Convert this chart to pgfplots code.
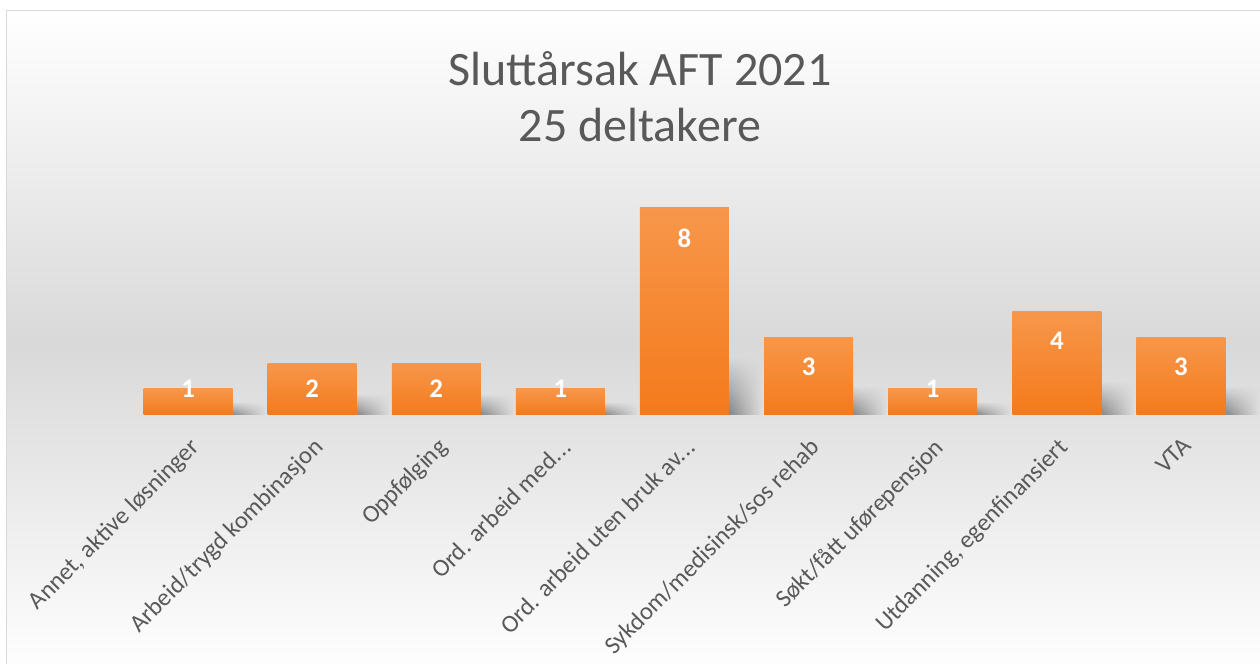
\documentclass[border=0pt]{standalone}
\usepackage{fontspec}
\setmainfont{Carlito}
\usepackage{pgfplots}
\pgfplotsset{compat=1.18}
\usetikzlibrary{fadings}
\definecolor{txt}{HTML}{595959}
\definecolor{bartop}{HTML}{F7974B}
\definecolor{barbot}{HTML}{F47A1B}
\definecolor{framec}{HTML}{D9D9D9}
\definecolor{bgmid}{HTML}{DCDCDC}
\tikzfading[name=fadeR, left color=transparent!0, middle color=transparent!30, right color=transparent!100]
\newcommand{\dd}{.\kern0.02em.\kern0.02em.}
\pgfplotsset{
  barst/.style={ybar, bar width=44.5pt, bar shift=0pt, draw=none, top color=bartop, bottom color=barbot},
  shst/.style={ybar, bar width=17pt, bar shift=30.75pt, draw=none, top color=bgmid, middle color=black!62, bottom color=black!48, path fading=fadeR},
}
\begin{document}
\begin{tikzpicture}
\useasboundingbox (0,0) rectangle (630pt,332pt);
\shade[top color=white, bottom color=white, middle color=black!15] (3pt,-5pt) rectangle (633pt,326.5pt);
\draw[framec, line width=0.7pt] (3.2pt,-2pt) -- (3.2pt,326.6pt) -- (633pt,326.6pt);
\node[txt, font=\fontsize{24}{28}\selectfont, anchor=base, inner sep=0pt] at (320pt,289pt) {Sluttårsak AFT 2021};
\node[txt, font=\fontsize{24}{28}\selectfont, anchor=base, inner sep=0pt] at (320pt,261pt) {25 deltakere};
\begin{axis}[
  at={(63pt,124.5pt)}, anchor=south west,
  scale only axis, width=558.5pt, height=117pt,
  xmin=-0.5, xmax=8.5, ymin=0, ymax=9,
  axis line style={draw=none},
  tick style={draw=none},
  ytick=\empty,
  xtick={0,1,2,3,4,5,6,7,8},
  xticklabels={{Annet, aktive løsninger},{Arbeid/trygd kombinasjon},{Oppfølging},{Ord. arbeid med\dd},{Ord. arbeid uten bruk av\dd},{Sykdom/medisinsk/sos rehab},{Søkt/fått uførepensjon},{Utdanning, egenfinansiert},{VTA}},
  xticklabel style={yshift=-10.5pt, rotate=45, anchor=north east, inner sep=0pt, text=txt, font=\fontsize{12.3}{14}\selectfont},
  clip=false,
]
% shadows
\addplot[shst] coordinates {(0,0.5)};
\addplot[shst] coordinates {(1,0.8)};
\addplot[shst] coordinates {(2,0.8)};
\addplot[shst] coordinates {(3,0.5)};
\addplot[shst] coordinates {(4,2.3)};
\addplot[shst] coordinates {(5,1.1)};
\addplot[shst] coordinates {(6,0.5)};
\addplot[shst] coordinates {(7,1.3)};
\addplot[shst] coordinates {(8,1.1)};
% bars
\addplot[barst] coordinates {(0,1)};
\addplot[barst] coordinates {(1,2)};
\addplot[barst] coordinates {(2,2)};
\addplot[barst] coordinates {(3,1)};
\addplot[barst] coordinates {(4,8)};
\addplot[barst] coordinates {(5,3)};
\addplot[barst] coordinates {(6,1)};
\addplot[barst] coordinates {(7,4)};
\addplot[barst] coordinates {(8,3)};
% data labels
\addplot[only marks, mark=none, point meta=explicit symbolic, nodes near coords, nodes near coords align={center},
  every node near coord/.append style={anchor=center, text=white, font=\fontsize{13.4}{15}\selectfont\bfseries}]
  coordinates {(0,1.0) [1] (1,1.0) [2] (2,1.0) [2] (3,1.0) [1] (4,6.8) [8] (5,1.85) [3] (6,1.0) [1] (7,2.85) [4] (8,1.85) [3]};
\end{axis}
\end{tikzpicture}
\end{document}
